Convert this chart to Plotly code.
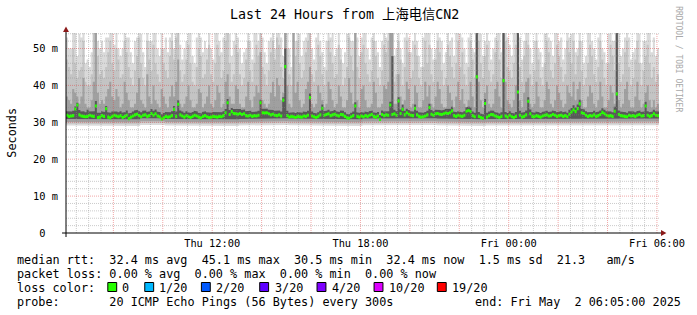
import numpy as np
import pandas as pd
import plotly.graph_objects as go

# ---------------- data ----------------
START = "2025-05-01 06:05:00"
END = "2025-05-02 06:05:00"
STEP_MIN = 5

# median rtt per 5-minute step (ms), 12 rows x 24 steps (2 hours per row)
median_ms = [
    31.9, 31.6, 31.7, 31.8, 33.6, 34.7, 32.0, 31.7, 31.6, 31.5, 31.6, 31.9, 31.7, 31.6, 34.4, 31.3, 31.4, 31.8, 31.6, 33.7, 31.4, 31.2, 31.6, 31.9,
    31.7, 31.5, 31.8, 31.3, 31.6, 31.9, 31.0, 31.4, 31.7, 32.0, 32.2, 31.8, 31.5, 31.9, 32.0, 31.6, 31.8, 32.4, 31.9, 32.3, 31.7, 31.5, 30.9, 31.2,
    31.6, 31.4, 31.5, 31.8, 33.5, 31.6, 34.9, 32.0, 31.7, 31.4, 31.8, 31.5, 31.3, 31.6, 31.9, 31.7, 31.4, 31.2, 31.6, 31.8, 31.5, 31.3, 31.4, 31.6,
    31.5, 31.4, 31.6, 31.5, 31.8, 32.6, 35.3, 32.1, 32.9, 32.4, 32.3, 32.2, 32.4, 32.1, 32.3, 31.8, 31.7, 31.9, 31.6, 31.8, 31.7, 31.9, 35.3, 32.6,
    32.5, 32.6, 32.3, 32.0, 32.2, 31.9, 31.8, 32.0, 31.7, 36.0, 45.1, 31.8, 31.4, 31.6, 31.5, 31.3, 31.6, 31.5, 31.4, 31.7, 31.6, 31.9, 36.7, 31.7,
    31.5, 31.3, 31.6, 32.0, 33.8, 31.9, 32.1, 32.3, 31.8, 32.0, 32.2, 31.9, 31.7, 32.1, 32.0, 31.6, 31.2, 31.1, 31.5, 31.8, 34.4, 31.6, 31.4, 31.7,
    31.5, 31.8, 31.6, 31.9, 32.1, 31.6, 31.4, 31.7, 30.8, 32.1, 31.8, 32.0, 31.9, 34.7, 32.1, 32.3, 31.9, 35.8, 32.4, 33.5, 32.0, 32.6, 32.2, 31.9,
    31.8, 33.8, 32.0, 31.6, 31.4, 31.5, 31.7, 32.0, 34.0, 32.2, 31.9, 32.3, 32.4, 32.2, 32.1, 32.3, 32.5, 32.4, 32.6, 33.1, 31.8, 31.6, 31.9, 31.7,
    31.6, 31.9, 33.0, 33.2, 32.9, 31.8, 31.5, 42.3, 31.6, 31.3, 31.1, 35.1, 31.4, 31.8, 32.1, 32.0, 31.7, 31.5, 31.3, 31.6, 41.3, 31.7, 31.4, 31.9,
    31.5, 31.3, 31.6, 38.2, 31.9, 31.4, 31.6, 32.0, 35.7, 32.3, 31.6, 31.5, 31.8, 31.6, 31.4, 31.7, 31.9, 32.0, 31.7, 31.8, 32.1, 31.9, 31.6, 31.8,
    31.9, 31.6, 31.8, 31.5, 32.2, 32.8, 33.4, 32.9, 33.7, 35.0, 32.6, 32.4, 31.9, 31.6, 31.8, 31.7, 32.0, 31.6, 31.8, 32.1, 32.7, 32.3, 31.9, 31.7,
    31.8, 31.6, 33.0, 37.7, 32.1, 31.8, 31.7, 31.6, 31.5, 31.9, 31.7, 31.8, 31.6, 31.9, 32.1, 31.7, 31.8, 34.4, 31.9, 31.6, 31.8, 32.3, 31.9, 31.8,
]

# top of the dark smoke core per step (ms)
dark_top_ms = [
    33.0, 32.8, 32.9, 33.1, 34.3, 35.3, 33.3, 32.9, 33.0, 32.7, 33.4, 32.9, 32.8, 33.0, 35.8, 32.6, 32.6, 33.0, 32.8, 34.4, 32.7, 32.6, 32.9, 33.1,
    32.9, 32.7, 33.0, 32.6, 32.8, 33.2, 32.4, 32.6, 32.9, 33.2, 33.4, 33.0, 32.7, 33.1, 33.2, 32.8, 33.0, 33.6, 33.1, 33.5, 32.9, 32.7, 32.2, 32.5,
    32.8, 32.6, 32.7, 33.0, 34.4, 32.9, 36.0, 33.2, 32.9, 32.6, 33.0, 32.7, 32.5, 32.8, 33.1, 32.9, 32.6, 32.4, 32.8, 33.0, 32.7, 32.5, 32.6, 32.8,
    32.7, 32.6, 32.8, 32.7, 33.0, 33.6, 36.3, 33.3, 33.9, 33.6, 33.5, 33.4, 33.6, 33.3, 33.5, 33.0, 32.9, 33.1, 32.8, 33.0, 32.9, 33.1, 36.1, 33.7,
    33.6, 33.7, 33.4, 33.2, 33.3, 33.1, 33.0, 33.2, 32.9, 36.8, 50.0, 33.1, 32.6, 32.8, 32.7, 32.5, 32.8, 32.7, 32.6, 32.9, 32.8, 33.1, 37.8, 32.9,
    32.6, 32.4, 32.7, 33.1, 34.8, 33.0, 33.2, 33.4, 32.9, 33.1, 33.3, 33.0, 32.8, 33.2, 33.1, 32.7, 32.3, 32.2, 32.6, 32.9, 35.4, 32.7, 32.5, 32.8,
    32.6, 32.9, 32.7, 33.0, 33.2, 32.7, 32.5, 32.8, 32.0, 33.2, 32.9, 33.1, 33.0, 35.6, 48.0, 33.4, 33.0, 36.8, 33.5, 34.8, 33.1, 33.7, 33.3, 33.0,
    32.9, 34.8, 33.1, 32.7, 32.5, 32.6, 32.8, 33.1, 35.0, 33.3, 33.0, 33.4, 33.5, 33.3, 33.2, 33.4, 33.6, 33.5, 33.7, 34.2, 32.9, 32.7, 33.0, 32.8,
    32.7, 33.0, 34.1, 34.3, 34.0, 32.9, 32.6, 60.0, 32.8, 32.4, 32.2, 36.3, 32.6, 32.9, 33.2, 33.1, 32.8, 32.6, 32.4, 32.7, 60.0, 32.8, 32.5, 33.0,
    32.6, 32.4, 32.8, 60.0, 33.1, 32.6, 32.8, 33.2, 36.8, 33.5, 32.8, 32.6, 32.9, 32.7, 32.5, 32.8, 33.0, 33.1, 32.8, 32.9, 33.2, 33.0, 32.7, 32.9,
    33.0, 32.7, 32.9, 32.6, 33.4, 33.9, 34.6, 34.0, 34.8, 36.1, 33.7, 33.5, 33.0, 32.7, 32.9, 32.8, 33.1, 32.7, 32.9, 33.2, 33.8, 33.4, 33.0, 32.8,
    32.9, 32.7, 34.2, 60.0, 33.2, 32.9, 32.8, 32.7, 32.6, 33.0, 32.8, 32.9, 32.7, 33.0, 33.2, 32.8, 32.9, 35.6, 33.0, 32.7, 32.9, 33.4, 33.0, 32.9,
]

# top of the medium-grey smoke per step (ms)
mid_top_ms = [
    37, 36, 35, 39, 38, 37, 35, 37, 42, 35, 34, 34, 36, 41, 60, 38, 35, 36, 35, 37, 39, 41, 37, 36,
    39, 37, 34, 35, 41, 38, 36, 34, 34, 35, 38, 42, 36, 35, 34, 43, 37, 35, 40, 36, 35, 34, 39, 37,
    35, 34, 37, 40, 37, 41, 47, 35, 34, 35, 37, 40, 36, 34, 34, 35, 39, 38, 34, 35, 37, 40, 35, 34,
    36, 40, 38, 34, 35, 41, 43, 37, 35, 35, 40, 39, 35, 34, 34, 37, 41, 36, 34, 37, 40, 38, 49, 36,
    35, 34, 35, 38, 41, 37, 42, 40, 36, 38, 60, 40, 35, 34, 58, 38, 41, 36, 34, 35, 39, 41, 45, 35,
    34, 35, 40, 38, 36, 34, 35, 41, 39, 36, 34, 35, 40, 37, 34, 34, 36, 42, 38, 35, 58, 36, 34, 39,
    40, 36, 34, 34, 35, 41, 38, 34, 34, 35, 40, 39, 41, 58, 60, 35, 35, 43, 37, 34, 36, 41, 39, 34,
    35, 40, 38, 34, 34, 36, 41, 37, 40, 35, 34, 37, 41, 39, 35, 34, 34, 40, 38, 36, 34, 37, 41, 36,
    39, 35, 34, 36, 41, 37, 34, 60, 41, 36, 34, 38, 40, 35, 34, 35, 39, 41, 37, 34, 60, 41, 36, 35,
    34, 36, 40, 60, 36, 34, 38, 41, 42, 35, 34, 35, 41, 37, 34, 34, 36, 41, 39, 35, 34, 36, 40, 38,
    36, 34, 35, 40, 38, 37, 41, 36, 39, 41, 36, 34, 34, 37, 40, 38, 35, 34, 36, 41, 37, 34, 34, 36,
    40, 38, 35, 60, 36, 34, 35, 39, 41, 36, 34, 34, 37, 41, 36, 34, 35, 38, 40, 36, 34, 36, 34, 35,
]

# top of the light-grey smoke per step (ms)
light_top_ms = [
    47, 45, 43, 50, 46, 42, 44, 45, 52, 41, 40, 40, 43, 55, 60, 48, 43, 44, 42, 45, 49, 52, 46, 44,
    50, 47, 42, 43, 52, 49, 45, 42, 40, 44, 48, 53, 46, 42, 40, 52, 47, 44, 51, 46, 43, 41, 50, 46,
    44, 42, 48, 52, 47, 53, 60, 44, 41, 43, 47, 51, 46, 41, 40, 45, 50, 48, 42, 43, 47, 51, 43, 41,
    46, 51, 48, 42, 44, 52, 56, 46, 41, 43, 51, 49, 43, 40, 42, 47, 52, 44, 41, 46, 51, 48, 58, 45,
    43, 40, 44, 49, 52, 47, 53, 51, 45, 42, 60, 50, 43, 40, 60, 48, 52, 46, 42, 44, 49, 52, 55, 43,
    41, 44, 51, 48, 43, 40, 44, 52, 49, 46, 42, 43, 51, 47, 40, 42, 45, 53, 48, 44, 60, 45, 42, 49,
    51, 46, 43, 41, 44, 52, 48, 42, 40, 44, 51, 49, 52, 60, 60, 41, 43, 52, 47, 40, 45, 52, 49, 42,
    44, 51, 48, 42, 40, 45, 52, 46, 51, 43, 41, 47, 52, 49, 44, 40, 42, 51, 48, 45, 42, 46, 52, 45,
    49, 43, 40, 45, 52, 47, 42, 60, 52, 46, 42, 48, 51, 44, 41, 43, 49, 52, 47, 42, 60, 52, 45, 44,
    42, 46, 51, 60, 45, 41, 48, 52, 51, 43, 40, 44, 52, 47, 42, 40, 46, 52, 49, 44, 42, 46, 51, 48,
    45, 41, 43, 52, 49, 46, 52, 43, 48, 52, 44, 40, 42, 46, 51, 48, 43, 41, 45, 52, 47, 42, 40, 46,
    51, 48, 44, 60, 46, 41, 43, 49, 52, 45, 40, 42, 47, 52, 46, 40, 44, 48, 51, 46, 42, 45, 41, 43,
]

# maximum ping per step (ms); values above the axis top are clipped
max_ms = [
    53, 50, 50, 60, 55, 48, 54, 53, 60, 46, 47, 45, 49, 60, 60, 52, 50, 52, 49, 53, 53, 60, 55, 51,
    60, 50, 48, 50, 60, 53, 53, 49, 46, 52, 53, 60, 54, 49, 45, 60, 52, 52, 60, 55, 50, 48, 60, 50,
    53, 49, 53, 60, 50, 60, 60, 51, 47, 50, 52, 60, 55, 48, 46, 53, 60, 53, 49, 52, 50, 60, 50, 47,
    55, 60, 52, 49, 53, 60, 60, 54, 48, 52, 60, 53, 50, 46, 49, 50, 60, 52, 47, 55, 60, 52, 60, 53,
    49, 46, 52, 53, 60, 50, 60, 60, 53, 48, 60, 60, 50, 45, 60, 52, 60, 54, 48, 52, 53, 60, 60, 50,
    47, 53, 60, 52, 49, 45, 52, 60, 53, 55, 48, 50, 60, 50, 46, 49, 54, 60, 52, 52, 60, 53, 48, 53,
    60, 55, 50, 47, 53, 60, 52, 49, 45, 52, 60, 53, 60, 60, 60, 48, 50, 60, 50, 46, 53, 60, 53, 49,
    52, 60, 52, 48, 45, 53, 60, 55, 60, 50, 47, 50, 60, 53, 52, 46, 49, 60, 52, 53, 48, 55, 60, 54,
    53, 50, 46, 53, 60, 50, 49, 60, 60, 54, 48, 52, 60, 52, 47, 50, 53, 60, 55, 49, 60, 60, 53, 51,
    48, 55, 60, 60, 53, 47, 52, 60, 60, 50, 46, 52, 60, 50, 49, 45, 54, 60, 53, 52, 48, 55, 60, 52,
    53, 47, 50, 60, 53, 54, 60, 49, 50, 60, 52, 46, 48, 55, 60, 52, 50, 47, 53, 60, 50, 49, 46, 54,
    60, 52, 52, 60, 55, 48, 50, 53, 60, 53, 47, 49, 50, 60, 54, 46, 52, 52, 60, 55, 49, 53, 48, 50,
]

# lower edges of the smoke bands, one value per hour (ms)
min_bot_hourly = [29.1, 29.2, 29.0, 29.3, 29.1, 29.2, 29.0, 29.1, 29.3, 29.2, 29.1, 29.0,
                  29.2, 29.1, 29.3, 29.2, 29.0, 29.1, 29.2, 29.1, 29.3, 29.2, 29.1, 29.2]
light_bot_hourly = [29.6, 29.7, 29.5, 29.8, 29.6, 29.7, 29.5, 29.6, 29.8, 29.7, 29.6, 29.5,
                    29.7, 29.6, 29.8, 29.7, 29.5, 29.6, 29.7, 29.6, 29.8, 29.7, 29.6, 29.7]
mid_bot_hourly = [30.1, 30.2, 30.0, 30.3, 30.1, 30.2, 30.0, 30.1, 30.3, 30.2, 30.1, 30.0,
                  30.2, 30.1, 30.3, 30.2, 30.0, 30.1, 30.2, 30.1, 30.3, 30.2, 30.1, 30.2]
dark_bot_hourly = [30.9, 31.0, 30.8, 31.1, 30.9, 31.0, 30.8, 30.9, 31.1, 31.0, 30.9, 30.8,
                   31.0, 30.9, 31.1, 31.0, 30.8, 30.9, 31.0, 30.9, 31.1, 31.0, 30.9, 31.0]

y_tick_vals = [0, 10, 20, 30, 40, 50]
y_tick_text = ["0\u00a0\u00a0", "10 m", "20 m", "30 m", "40 m", "50 m"]
x_tick_vals = ["2025-05-01 12:00", "2025-05-01 18:00", "2025-05-02 00:00", "2025-05-02 06:00"]
x_tick_text = ["Thu 12:00", "Thu 18:00", "Fri 00:00", "Fri 06:00"]

legend_rtt = "median rtt:  32.4 ms avg  45.1 ms max  30.5 ms min  32.4 ms now  1.5 ms sd  21.3   am/s"
legend_loss = "packet loss: 0.00 % avg  0.00 % max  0.00 % min  0.00 % now"
loss_labels = ["0", "1/20", "2/20", "3/20", "4/20", "10/20", "19/20"]
loss_colors = ["#26ff00", "#00b8ff", "#0059ff", "#5e00ff", "#7e00ff", "#dd00ff", "#ff0000"]
probe_text = "probe:       20 ICMP Echo Pings (56 Bytes) every 300s"
end_text = "end: Fri May  2 06:05:00 2025"
title_text = "Last 24 Hours from 上海电信CN2"

# ---------------- layout geometry ----------------
W, H = 697, 315
ML, MR, MT, MB = 66, 31, 33, 82
PW, PH = W - ML - MR, H - MT - MB
Y_MAX = 54.2
MONO = "DejaVu Sans Mono"


def px(xp):
    return (xp - ML) / PW


def py(yp):
    return (MT + PH - yp) / PH


def nb(s):
    return s.replace(" ", "\u00a0")


n = len(median_ms)
t0 = pd.Timestamp(START)
edges = t0 + pd.to_timedelta(np.arange(n + 1) * STEP_MIN, unit="min")


def step_band(bot, top):
    """closed step-shaped polygon between two per-step series"""
    xs, ys = [], []
    for i in range(n):
        xs += [edges[i], edges[i + 1]]
        ys += [top[i], top[i]]
    for i in range(n - 1, -1, -1):
        xs += [edges[i + 1], edges[i]]
        ys += [bot[i], bot[i]]
    xs.append(edges[0])
    ys.append(top[0])
    return xs, ys


med = np.array(median_ms, float)
bands = [
    (np.repeat(min_bot_hourly, 12), np.array(max_ms, float), "#dadada"),
    (np.repeat(light_bot_hourly, 12), np.array(light_top_ms, float), "#c4c4c4"),
    (np.repeat(mid_bot_hourly, 12), np.array(mid_top_ms, float), "#a0a0a0"),
    (np.repeat(dark_bot_hourly, 12), np.array(dark_top_ms, float), "#585858"),
]

fig = go.Figure()
for bot, top, col in bands:
    xs, ys = step_band(bot, top)
    fig.add_trace(go.Scatter(x=xs, y=ys, mode="lines", fill="toself", fillcolor=col,
                             line=dict(width=0, color=col), hoverinfo="skip"))

# median boxes coloured by loss (all 0 loss here)
gx, gy = [], []
for i in range(n):
    lo, hi = med[i] - 0.42, med[i] + 0.42
    gx += [edges[i], edges[i + 1], edges[i + 1], edges[i], edges[i], None]
    gy += [lo, lo, hi, hi, lo, None]
fig.add_trace(go.Scatter(x=gx, y=gy, mode="lines", fill="toself", fillcolor=loss_colors[0],
                         line=dict(width=0, color=loss_colors[0]), hoverinfo="skip"))

shapes = []
# grid (drawn on top of the smoke like rrdtool)
minor_grid = dict(color="rgba(140,140,140,0.45)", width=1, dash="1px,1px")
major_grid = dict(color="rgba(225,60,60,0.45)", width=1, dash="1px,1px")
for t in pd.date_range("2025-05-01 06:30", "2025-05-02 06:00", freq="30min"):
    major = (t.minute == 0 and t.hour % 2 == 0)
    shapes.append(dict(type="line", xref="x", yref="paper", x0=t, x1=t, y0=0, y1=1,
                       line=major_grid if major else minor_grid, layer="above"))
for v in range(2, 55, 2):
    shapes.append(dict(type="line", xref="paper", yref="y", x0=0, x1=1, y0=v, y1=v,
                       line=major_grid if v % 10 == 0 else minor_grid, layer="above"))
# axis lines (extended past the origin) and arrows
axis_col = "#000000"
arrow_col = "#8b1a1a"
shapes.append(dict(type="line", xref="paper", yref="paper", x0=px(62), x1=px(669), y0=0, y1=0,
                   line=dict(color=axis_col, width=1), layer="above"))
shapes.append(dict(type="line", xref="paper", yref="paper", x0=0, x1=0, y0=py(237), y1=py(30),
                   line=dict(color=axis_col, width=1), layer="above"))
shapes.append(dict(type="path", xref="paper", yref="paper",
                   path=f"M {px(63)} {py(32)} L {px(69)} {py(32)} L {px(66)} {py(26.5)} Z",
                   fillcolor=arrow_col, line=dict(width=0), layer="above"))
shapes.append(dict(type="path", xref="paper", yref="paper",
                   path=f"M {px(668)} {py(230)} L {px(668)} {py(236)} L {px(673.5)} {py(233)} Z",
                   fillcolor=arrow_col, line=dict(width=0), layer="above"))

annotations = []


def ann(text, xp, yp, size, anchor="left", color="black", angle=0, yanchor="middle"):
    annotations.append(dict(text=nb(text), x=px(xp), y=py(yp), xref="paper", yref="paper",
                            xanchor=anchor, yanchor=yanchor, showarrow=False, textangle=angle,
                            borderpad=0,
                            font=dict(family=MONO + ", Noto Sans CJK SC", size=size, color=color)))


LEG = 11.8
ann(title_text, 348, 15, 13.3, anchor="center")
ann("RRDTOOL / TOBI OETIKER", 686, 59, 8, anchor="center", color="#a8a8a8", angle=90)
ann("Seconds", 11, 133, LEG, anchor="center", angle=-90)
ann(legend_rtt, 15, 259.5, LEG)
ann(legend_loss, 15, 273.5, LEG)
ann("loss color:", 15, 287.5, LEG)
swatch_x = [108.3, 145.7, 203, 262, 320, 377.7, 441.7]
label_x = [122, 159, 217, 276, 334, 391.7, 455.7]
for sx, lx, lab, col in zip(swatch_x, label_x, loss_labels, loss_colors):
    shapes.append(dict(type="rect", xref="paper", yref="paper", x0=px(sx), x1=px(sx + 9),
                       y0=py(291.5), y1=py(282.5), fillcolor=col,
                       line=dict(color="black", width=1)))
    ann(lab, lx, 287.5, LEG)
ann(probe_text, 15, 301.5, LEG)
ann(end_text, 479, 301.5, LEG)

fig.update_layout(
    width=W, height=H,
    margin=dict(l=ML, r=MR, t=MT, b=MB, pad=0),
    paper_bgcolor="white", plot_bgcolor="white",
    showlegend=False,
    shapes=shapes, annotations=annotations,
    xaxis=dict(type="date", range=[START, END], showgrid=False, zeroline=False,
               showline=False, tickmode="array", tickvals=x_tick_vals, ticktext=x_tick_text,
               ticks="", ticklabelstandoff=3,
               tickfont=dict(family=MONO, size=10.35, color="black")),
    yaxis=dict(range=[0, Y_MAX], showgrid=False, zeroline=False, showline=False,
               tickmode="array", tickvals=y_tick_vals, ticktext=y_tick_text,
               ticks="", ticklabelstandoff=7,
               tickfont=dict(family=MONO, size=10.35, color="black")),
)

fig.write_html("out.html")
